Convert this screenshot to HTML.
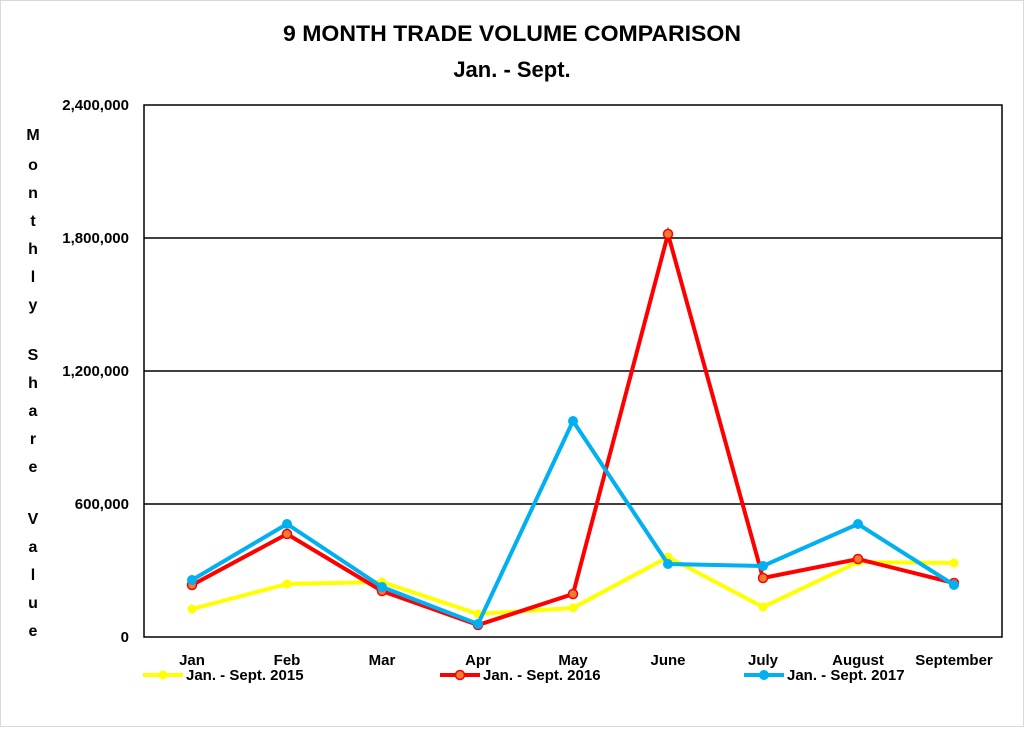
<!DOCTYPE html>
<html><head><style>
body{margin:0;background:#fff;}
svg text{font-family:"Liberation Sans",sans-serif;font-weight:bold;fill:#000;}
</style></head><body>
<svg width="1024" height="727" viewBox="0 0 1024 727" xmlns="http://www.w3.org/2000/svg">
<rect x="0.5" y="0.5" width="1023" height="726" fill="#fff" stroke="#d9d9d9"/>
<text x="512" y="41" font-size="22" text-anchor="middle" textLength="458" lengthAdjust="spacingAndGlyphs">9 MONTH TRADE VOLUME COMPARISON</text>
<text x="512" y="77" font-size="22" text-anchor="middle">Jan. - Sept.</text>
<g stroke="#000" stroke-width="1.5">
<line x1="144" y1="238" x2="1002" y2="238"/>
<line x1="144" y1="371" x2="1002" y2="371"/>
<line x1="144" y1="504" x2="1002" y2="504"/>
</g>
<rect x="144" y="105" width="858" height="532" fill="none" stroke="#000" stroke-width="1.5"/>
<g font-size="15" text-anchor="end">
<text x="129" y="110">2,400,000</text>
<text x="129" y="243">1,800,000</text>
<text x="129" y="376">1,200,000</text>
<text x="129" y="509">600,000</text>
<text x="129" y="642">0</text>
</g>
<g font-size="16" text-anchor="middle">
<text x="33" y="140">M</text><text x="33" y="170">o</text><text x="33" y="198">n</text><text x="33" y="226">t</text><text x="33" y="254">h</text><text x="33" y="282">l</text><text x="33" y="310">y</text>
<text x="33" y="360">S</text><text x="33" y="388">h</text><text x="33" y="416">a</text><text x="33" y="444">r</text><text x="33" y="472">e</text>
<text x="33" y="524">V</text><text x="33" y="552">a</text><text x="33" y="580">l</text><text x="33" y="608">u</text><text x="33" y="636">e</text>
</g>
<g font-size="15" text-anchor="middle">
<text x="192" y="665">Jan</text><text x="287" y="665">Feb</text><text x="382" y="665">Mar</text><text x="478" y="665">Apr</text><text x="573" y="665">May</text><text x="668" y="665">June</text><text x="763" y="665">July</text><text x="858" y="665">August</text><text x="954" y="665">September</text>
</g>
<polyline fill="none" stroke="#ffff00" stroke-width="4" points="192,609 287,584 382,582 478,614 573,608 668,557 763,607 858,562 954,563"/>
<g fill="#ffff00"><circle cx="192" cy="609" r="4.5"/><circle cx="287" cy="584" r="4.5"/><circle cx="382" cy="582" r="4.5"/><circle cx="478" cy="614" r="4.5"/><circle cx="573" cy="608" r="4.5"/><circle cx="668" cy="557" r="4.5"/><circle cx="763" cy="607" r="4.5"/><circle cx="858" cy="562" r="4.5"/><circle cx="954" cy="563" r="4.5"/></g>
<polyline fill="none" stroke="#ff0000" stroke-width="4" points="192,585 287,534 382,591 478,625 573,594 668,234 763,578 858,559 954,583"/>
<g fill="#ed7d31" stroke="#ff0000" stroke-width="1.5"><circle cx="192" cy="585" r="4.5"/><circle cx="287" cy="534" r="4.5"/><circle cx="382" cy="591" r="4.5"/><circle cx="478" cy="625" r="4.5"/><circle cx="573" cy="594" r="4.5"/><circle cx="668" cy="234" r="4.5"/><circle cx="763" cy="578" r="4.5"/><circle cx="858" cy="559" r="4.5"/><circle cx="954" cy="583" r="4.5"/></g>
<polyline fill="none" stroke="#00b0f0" stroke-width="4" points="192,580 287,524 382,587 478,624 573,421 668,564 763,566 858,524 954,585"/>
<g fill="#00b0f0"><circle cx="192" cy="580" r="5"/><circle cx="287" cy="524" r="5"/><circle cx="382" cy="587" r="5"/><circle cx="478" cy="624" r="5"/><circle cx="573" cy="421" r="5"/><circle cx="668" cy="564" r="5"/><circle cx="763" cy="566" r="5"/><circle cx="858" cy="524" r="5"/><circle cx="954" cy="585" r="5"/></g>
<line x1="143" y1="675" x2="183" y2="675" stroke="#ffff00" stroke-width="4"/><circle cx="163" cy="675" r="4.5" fill="#ffff00"/>
<text x="186" y="680" font-size="15">Jan. - Sept. 2015</text>
<line x1="440" y1="675" x2="480" y2="675" stroke="#ff0000" stroke-width="4"/><circle cx="460" cy="675" r="4.5" fill="#ed7d31" stroke="#ff0000" stroke-width="1.5"/>
<text x="483" y="680" font-size="15">Jan. - Sept. 2016</text>
<line x1="744" y1="675" x2="784" y2="675" stroke="#00b0f0" stroke-width="4"/><circle cx="764" cy="675" r="5" fill="#00b0f0"/>
<text x="787" y="680" font-size="15">Jan. - Sept. 2017</text>
</svg>
</body></html>
